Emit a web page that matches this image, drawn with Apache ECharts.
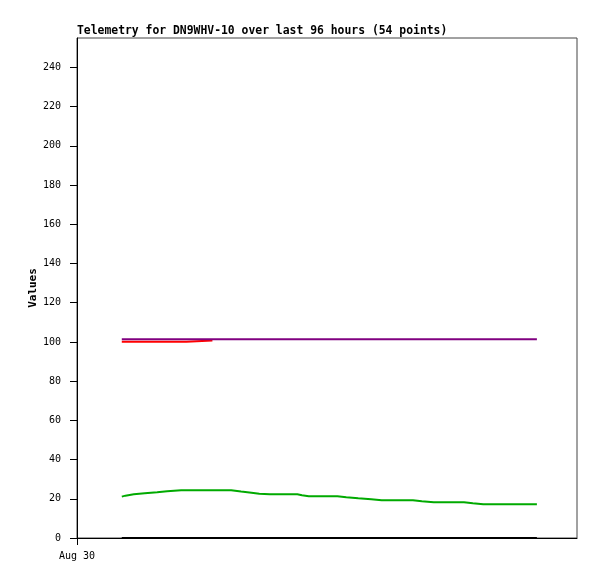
<!DOCTYPE html>
<html><head><meta charset="utf-8">
<script src="https://cdn.jsdelivr.net/npm/echarts@6/dist/echarts.min.js"></script>
<style>html,body{margin:0;padding:0;background:#fff}#c{width:597px;height:579px}</style>
</head><body><div id="c"></div>
<script>
// hours since Aug 30 00:00
const yTicks = [0,20,40,60,80,100,120,140,160,180,200,220,240];
const xTickLabels = ['Aug 30'];
const redSeries = [[8.6,100.1],[21.0,100.1],[21.2,100.7],[26.0,100.7]];
const purpleSeries = [[8.6,101.3],[88.3,101.3]];
const greenSeries = [[8.6,21.1],[9.3,21.6],[10.9,22.3],[13.0,22.8],[15.4,23.3],[17.3,23.8],[20.0,24.4],[29.6,24.4],[31.5,23.7],[33.5,23.1],[35.0,22.6],[37.0,22.3],[41.0,22.3],[41.3,21.3],[41.6,22.3],[42.3,22.3],[43.2,21.8],[44.5,21.3],[50.0,21.3],[51.7,20.8],[54.0,20.3],[56.5,19.8],[58.5,19.3],[64.5,19.3],[66.2,18.7],[68.5,18.2],[74.3,18.2],[76.0,17.7],[78.0,17.2],[88.3,17.2]];
const blackSeries = [[8.6,0],[88.3,0]];

const chart = echarts.init(document.getElementById('c'));
const mono = 'DejaVu Sans Mono';
function line(name, data, color, z){
  return {name, type:'line', data, showSymbol:false, symbol:'none', z,
    lineStyle:{color, width:2}, itemStyle:{color}, animation:false};
}
chart.setOption({
  animation:false,
  backgroundColor:'#fff',
  title:{text:'Telemetry for DN9WHV-10 over last 96 hours (54 points)', left:72, top:21,
    textStyle:{fontFamily:mono, fontSize:11.4, fontWeight:'bold', color:'#000'}},
  grid:{left:77, right:20, top:38, bottom:41, show:true, borderColor:'#444', borderWidth:1, backgroundColor:'#fff'},
  xAxis:{type:'value', min:0, max:96,
    axisLine:{show:true, lineStyle:{color:'#000', width:1}},
    axisTick:{show:true, length:7, customValues:[0], lineStyle:{color:'#000'}},
    axisLabel:{show:true, customValues:[0], formatter:(v)=>xTickLabels[0], margin:13,
      fontFamily:mono, fontSize:10, color:'#000'},
    splitLine:{show:false}},
  yAxis:{type:'value', min:0, max:255, interval:20, name:'Values', nameLocation:'middle', nameGap:38,
    nameMoveOverlap:false,
    nameTextStyle:{fontFamily:mono, fontSize:11, fontWeight:'bold', color:'#000'},
    axisLine:{show:true, lineStyle:{color:'#000', width:1}},
    axisTick:{show:true, length:7, customValues:yTicks, lineStyle:{color:'#000'}},
    axisLabel:{customValues:yTicks, margin:16, fontFamily:mono, fontSize:10, color:'#000'},
    splitLine:{show:false}},
  series:[
    line('black', blackSeries, '#000000', 2),
    line('green', greenSeries, '#00aa00', 3),
    line('red', redSeries, '#ff0000', 4),
    line('purple', purpleSeries, '#800080', 5)
  ]
});
</script></body></html>
